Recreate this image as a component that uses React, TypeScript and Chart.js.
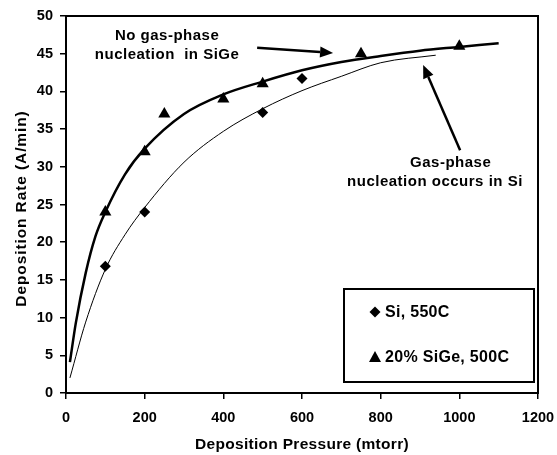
import React, { useEffect, useRef } from 'react';
import { Chart, registerables } from 'chart.js';

Chart.register(...registerables);

// ---- Data ----
const siLabel = 'Si, 550C';
const sigeLabel = '20% SiGe, 500C';

const siPressure = [100, 200, 500, 600];
const siRate = [16.8, 24.0, 37.2, 41.7];

const sigePressure = [100, 200, 250, 400, 500, 750, 1000];
const sigeRate = [24.0, 32.0, 37.0, 39.0, 41.0, 45.0, 46.0];

// fitted trend curves
const sigeFitPressure = [10, 25, 50, 75, 100, 150, 200, 300, 400, 500, 600, 700, 800, 900, 1000, 1100];
const sigeFitRate = [4.1, 9.3, 15.9, 20.8, 24.0, 29.0, 32.4, 37.0, 39.6, 41.3, 42.8, 43.9, 44.7, 45.4, 45.9, 46.4];

const siFitPressure = [10, 50, 100, 150, 200, 300, 400, 500, 600, 700, 800, 940];
const siFitRate = [2.0, 9.4, 16.4, 21.0, 24.6, 30.6, 34.7, 37.7, 40.1, 42.0, 43.8, 44.8];

const xTitle = 'Deposition Pressure (mtorr)';
const yTitle = 'Deposition Rate (A/min)';

const noteSiGe = ['No gas-phase', 'nucleation  in SiGe'];
const noteSi = ['Gas-phase', 'nucleation occurs in Si'];

const FONT = '"Liberation Sans", Arial, Helvetica, sans-serif';

const toPts = (xs: number[], ys: number[]) => xs.map((x, i) => ({ x, y: ys[i] }));

function setSpacing(ctx: any, px: number) {
  try { ctx.letterSpacing = px + 'px'; } catch (e) { /* ignore */ }
}

function drawArrow(ctx: CanvasRenderingContext2D, x1: number, y1: number, x2: number, y2: number) {
  const ang = Math.atan2(y2 - y1, x2 - x1);
  const headLen = 13;
  const headW = 5.5;
  const bx = x2 - Math.cos(ang) * headLen;
  const by = y2 - Math.sin(ang) * headLen;
  ctx.save();
  ctx.strokeStyle = '#000';
  ctx.fillStyle = '#000';
  ctx.lineWidth = 2.5;
  ctx.beginPath();
  ctx.moveTo(x1, y1);
  ctx.lineTo(bx, by);
  ctx.stroke();
  ctx.beginPath();
  ctx.moveTo(x2, y2);
  ctx.lineTo(bx + Math.sin(ang) * headW, by - Math.cos(ang) * headW);
  ctx.lineTo(bx - Math.sin(ang) * headW, by + Math.cos(ang) * headW);
  ctx.closePath();
  ctx.fill();
  ctx.restore();
}

const framePlugin = {
  id: 'frame',
  afterDraw(chart: any) {
    const { ctx, chartArea: a } = chart;
    ctx.save();
    ctx.strokeStyle = '#000';
    ctx.lineWidth = 2;
    ctx.strokeRect(a.left, a.top, a.right - a.left, a.bottom - a.top);
    ctx.restore();
  },
};

const titlesPlugin = {
  id: 'axisTitles',
  afterDraw(chart: any) {
    const { ctx, chartArea: a } = chart;
    ctx.save();
    ctx.fillStyle = '#000';
    ctx.font = `bold 15.5px ${FONT}`;
    ctx.textAlign = 'center';
    ctx.textBaseline = 'alphabetic';
    setSpacing(ctx, 0.3);
    ctx.fillText(xTitle, (a.left + a.right) / 2, a.bottom + 56);
    ctx.restore();

    ctx.save();
    ctx.fillStyle = '#000';
    ctx.font = `bold 15.5px ${FONT}`;
    ctx.textAlign = 'center';
    ctx.textBaseline = 'alphabetic';
    setSpacing(ctx, 0.9);
    ctx.translate(26, (a.top + a.bottom) / 2 + 4);
    ctx.rotate(-Math.PI / 2);
    ctx.fillText(yTitle, 0, 0);
    ctx.restore();
  },
};

const notesPlugin = {
  id: 'notes',
  afterDatasetsDraw(chart: any) {
    const { ctx } = chart;
    const xs = chart.scales.x;
    const ys = chart.scales.y;
    const px = (v: number) => xs.getPixelForValue(v);
    const py = (v: number) => ys.getPixelForValue(v);
    ctx.save();
    ctx.fillStyle = '#000';
    ctx.font = `bold 15px ${FONT}`;
    ctx.textAlign = 'center';
    ctx.textBaseline = 'middle';
    setSpacing(ctx, 0.5);
    ctx.fillText(noteSiGe[0], px(257), py(47.4));
    ctx.fillText(noteSiGe[1], px(257), py(44.8));
    ctx.fillText(noteSi[0], px(978), py(30.5));
    ctx.fillText(noteSi[1], px(938), py(28.0));
    ctx.restore();
    drawArrow(ctx, px(486), py(45.8), px(679), py(45.1));
    drawArrow(ctx, px(1002), py(32.2), px(908), py(43.5));
  },
};

const legendPlugin = {
  id: 'customLegend',
  afterDraw(chart: any) {
    const { ctx, chartArea: a } = chart;
    const w = 190;
    const h = 93;
    const right = a.right - 4;
    const bottom = a.bottom - 11;
    const left = right - w;
    const top = bottom - h;
    ctx.save();
    ctx.fillStyle = '#fff';
    ctx.fillRect(left, top, w, h);
    ctx.strokeStyle = '#000';
    ctx.lineWidth = 2;
    ctx.strokeRect(left, top, w, h);
    ctx.fillStyle = '#000';
    // diamond
    const mx = left + 31;
    const r1y = top + 23;
    ctx.beginPath();
    ctx.moveTo(mx, r1y - 5.5);
    ctx.lineTo(mx + 5.5, r1y);
    ctx.lineTo(mx, r1y + 5.5);
    ctx.lineTo(mx - 5.5, r1y);
    ctx.closePath();
    ctx.fill();
    // triangle
    const r2y = top + 68;
    ctx.beginPath();
    ctx.moveTo(mx, r2y - 6);
    ctx.lineTo(mx + 6, r2y + 5);
    ctx.lineTo(mx - 6, r2y + 5);
    ctx.closePath();
    ctx.fill();
    ctx.font = `bold 16px ${FONT}`;
    ctx.textAlign = 'left';
    ctx.textBaseline = 'middle';
    setSpacing(ctx, 0.3);
    ctx.fillText(chart.data.datasets[0].label, left + 41, r1y + 1);
    ctx.fillText(chart.data.datasets[1].label, left + 41, r2y + 1);
    ctx.restore();
  },
};

export default function App() {
  const canvasRef = useRef<HTMLCanvasElement | null>(null);

  useEffect(() => {
    const canvas = canvasRef.current;
    if (!canvas) return;
    const tickFont = { family: FONT, size: 14.5, weight: 'bold' };
    const chart = new Chart(canvas, {
      type: 'scatter',
      data: {
        datasets: [
          {
            label: siLabel,
            data: toPts(siPressure, siRate),
            pointStyle: 'rectRot',
            pointRadius: 5.5,
            backgroundColor: '#000',
            borderColor: '#000',
            borderWidth: 0,
            showLine: false,
            order: 0,
          },
          {
            label: sigeLabel,
            data: toPts(sigePressure, sigeRate),
            pointStyle: 'triangle',
            pointRadius: 7,
            backgroundColor: '#000',
            borderColor: '#000',
            borderWidth: 0,
            showLine: false,
            order: 0,
          },
          {
            label: 'SiGe fit',
            data: toPts(sigeFitPressure, sigeFitRate),
            showLine: true,
            pointRadius: 0,
            borderColor: '#000',
            borderWidth: 2.5,
            cubicInterpolationMode: 'monotone',
            fill: false,
            order: 1,
          } as any,
          {
            label: 'Si fit',
            data: toPts(siFitPressure, siFitRate),
            showLine: true,
            pointRadius: 0,
            borderColor: '#000',
            borderWidth: 1,
            cubicInterpolationMode: 'monotone',
            fill: false,
            order: 1,
          } as any,
        ],
      },
      options: {
        responsive: false,
        animation: false,
        devicePixelRatio: 1,
        layout: { padding: 0 },
        plugins: {
          legend: { display: false },
          tooltip: { enabled: false },
        },
        scales: {
          x: {
            type: 'linear',
            min: 0,
            max: 1200,
            ticks: {
              stepSize: 200,
              color: '#000',
              padding: 10.5,
              font: tickFont,
              callback: (v: any) => String(v),
            },
            grid: { display: true, drawOnChartArea: false, drawTicks: true, tickLength: 6, color: '#000', lineWidth: 1.5 },
            border: { display: true, color: '#000', width: 2 },
            title: { display: false },
            afterFit: (s: any) => {
              s.height = 62;
              s.paddingLeft = 0;
              s.paddingRight = 19;
              s.paddingTop = 0;
              s.paddingBottom = 0;
            },
          },
          y: {
            type: 'linear',
            min: 0,
            max: 50,
            ticks: {
              stepSize: 5,
              color: '#000',
              padding: 7,
              font: tickFont,
              callback: (v: any) => String(v),
            },
            grid: { display: true, drawOnChartArea: false, drawTicks: true, tickLength: 6, color: '#000', lineWidth: 1.5 },
            border: { display: true, color: '#000', width: 2 },
            title: { display: false },
            afterFit: (s: any) => {
              s.width = 66;
              s.paddingTop = 16;
              s.paddingBottom = 0;
              s.paddingLeft = 0;
              s.paddingRight = 0;
            },
          },
        },
      } as any,
      plugins: [framePlugin, notesPlugin, legendPlugin, titlesPlugin],
    });
    return () => chart.destroy();
  }, []);

  return (
    <div style={{ position: 'absolute', left: 0, top: 0, width: 557, height: 455, background: '#fff' }}>
      <canvas ref={canvasRef} width={557} height={455} style={{ display: 'block' }} />
    </div>
  );
}
